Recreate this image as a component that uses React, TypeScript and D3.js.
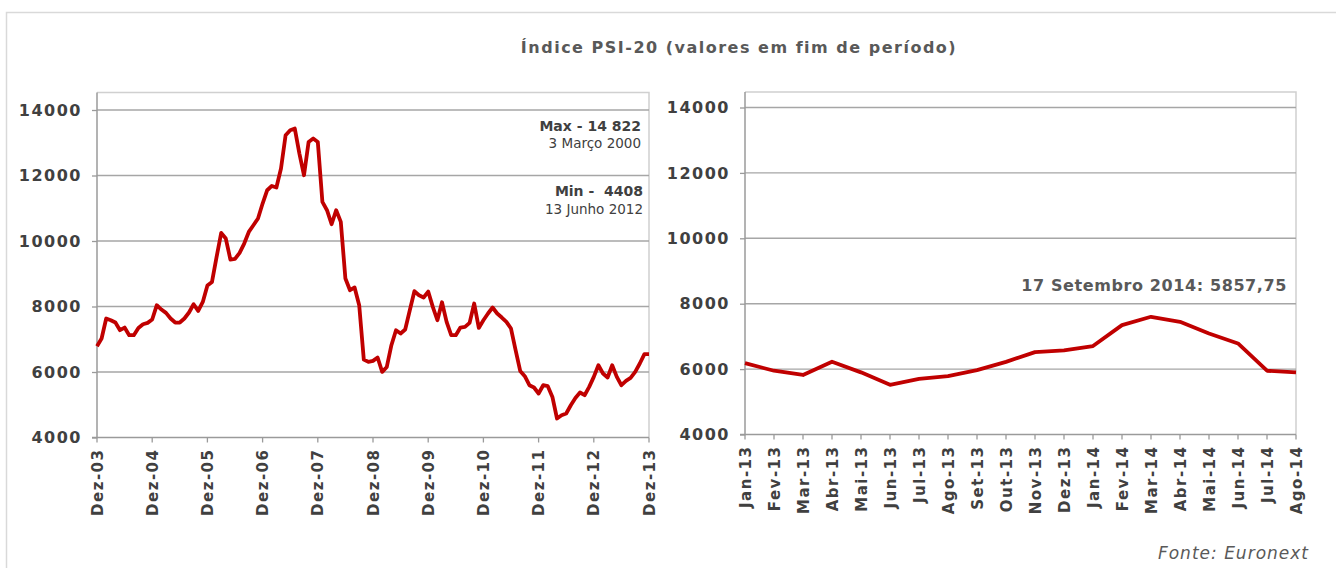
import React, { useEffect, useRef } from 'react';
import * as d3 from 'd3';

// PSI-20 end of month, Dez-03 .. Dez-13 (121 points)
const psiMonthly: number[] = [
  6788, 7022, 7633, 7580, 7510, 7276, 7358, 7123, 7123, 7346, 7459, 7500,
  7602, 8040, 7908, 7805, 7633, 7510, 7510, 7633, 7816, 8070, 7866, 8140,
  8640, 8750, 9514, 10247, 10075, 9434, 9454, 9637, 9922, 10277, 10481, 10686,
  11144, 11550, 11681, 11632, 12212, 13229, 13382, 13433, 12670, 12008, 13025, 13128,
  13025, 11193, 10940, 10512, 10940, 10583, 8854, 8497, 8580, 8040, 6381, 6309,
  6340, 6442, 6003, 6155, 6818, 7276, 7175, 7297, 7886, 8467, 8345, 8274,
  8457, 7988, 7580, 8130, 7530, 7123, 7123, 7358, 7378, 7500, 8090, 7346,
  7580, 7786, 7969, 7786, 7664, 7530, 7327, 6665, 6033, 5871, 5596, 5526,
  5343, 5596, 5566, 5240, 4580, 4681, 4733, 4986, 5209, 5374, 5291, 5545,
  5850, 6207, 5954, 5832, 6207, 5850, 5596, 5728, 5820, 6003, 6259, 6543,
  6543,
];
const yearLabels: string[] = [
  'Dez-03', 'Dez-04', 'Dez-05', 'Dez-06', 'Dez-07', 'Dez-08',
  'Dez-09', 'Dez-10', 'Dez-11', 'Dez-12', 'Dez-13',
];

// Jan-13 .. Ago-14
const monthLabels: string[] = [
  'Jan-13', 'Fev-13', 'Mar-13', 'Abr-13', 'Mai-13', 'Jun-13', 'Jul-13',
  'Ago-13', 'Set-13', 'Out-13', 'Nov-13', 'Dez-13', 'Jan-14', 'Fev-14',
  'Mar-14', 'Abr-14', 'Mai-14', 'Jun-14', 'Jul-14', 'Ago-14',
];
const psiRecent: number[] = [
  6180, 5950, 5820, 6225, 5900, 5520, 5700, 5785, 5970, 6220,
  6520, 6575, 6705, 7345, 7600, 7445, 7090, 6785, 5950, 5900,
];

const yTicks: number[] = [4000, 6000, 8000, 10000, 12000, 14000];

const FONT = "'DejaVu Sans', Verdana, sans-serif";
const LINE_RED = '#c00000';
const GRID = '#a6a6a6';
const BORDER = '#d0d0d0';
const AXIS = '#9a9a9a';
const TEXT = '#404040';

export default function App() {
  const svgRef = useRef<SVGSVGElement>(null);

  useEffect(() => {
    const svg = d3.select(svgRef.current);
    svg.selectAll('*').remove();

    // outer frame
    svg.append('path')
      .attr('d', 'M6.5,568 L6.5,12.5 L1336,12.5')
      .attr('fill', 'none')
      .attr('stroke', '#d9d9d9')
      .attr('stroke-width', 1.5);

    svg.append('text')
      .attr('x', 739)
      .attr('y', 53)
      .attr('text-anchor', 'middle')
      .style('font-family', FONT)
      .style('font-size', '16px')
      .style('font-weight', 'bold')
      .style('letter-spacing', '1.5px')
      .attr('fill', '#595959')
      .text('Índice PSI-20 (valores em fim de período)');

    const drawPanel = (
      left: number, right: number, top: number, y14: number, y4: number,
      values: number[], xPos: (i: number) => number,
      tickIdx: number[], tickLabels: string[]
    ) => {
      const g = svg.append('g');
      const y = d3.scaleLinear().domain([4000, 14000]).range([y4, y14]);

      // plot border
      g.append('path')
        .attr('d', `M${left},${top} L${right},${top} L${right},${y4}`)
        .attr('fill', 'none')
        .attr('stroke', BORDER)
        .attr('stroke-width', 1.5);

      yTicks.forEach(t => {
        if (t > 4000) {
          g.append('line')
            .attr('x1', left).attr('x2', right)
            .attr('y1', y(t)).attr('y2', y(t))
            .attr('stroke', GRID).attr('stroke-width', 1.4);
        }
      });

      const yAxis = d3.axisLeft(y).tickValues(yTicks).tickSize(5).tickPadding(10)
        .tickFormat(d => String(d));
      const ya = g.append('g').attr('transform', `translate(${left},0)`).call(yAxis);
      ya.select('.domain').attr('stroke', AXIS).attr('stroke-width', 1.5)
        .attr('d', `M-5,${y4}H0V${top}`);
      ya.selectAll('line').attr('stroke', AXIS).attr('stroke-width', 1.3);
      ya.selectAll('text')
        .style('font-family', FONT).style('font-size', '16px').style('font-weight', 'bold')
        .style('letter-spacing', '1.5px')
        .attr('fill', TEXT);

      // x axis
      g.append('line')
        .attr('x1', left).attr('x2', right).attr('y1', y4).attr('y2', y4)
        .attr('stroke', AXIS).attr('stroke-width', 1.5);
      tickIdx.forEach((ti, k) => {
        const x = xPos(ti);
        g.append('line')
          .attr('x1', x).attr('x2', x).attr('y1', y4).attr('y2', y4 + 5)
          .attr('stroke', AXIS).attr('stroke-width', 1.3);
        g.append('text')
          .attr('transform', `translate(${x + 5.5},${y4 + 11}) rotate(-90)`)
          .attr('text-anchor', 'end')
          .style('font-family', FONT).style('font-size', '15px').style('font-weight', 'bold')
          .style('letter-spacing', '1.5px')
          .attr('fill', TEXT)
          .text(tickLabels[k]);
      });

      const line = d3.line<number>()
        .x((_, i) => xPos(i))
        .y(d => y(d));
      g.append('path')
        .datum(values)
        .attr('d', line)
        .attr('fill', 'none')
        .attr('stroke', LINE_RED)
        .attr('stroke-width', 3.8)
        .attr('stroke-linejoin', 'round');
      return g;
    };

    // left panel: 10 years of monthly values
    const xLeft = d3.scaleLinear().domain([0, psiMonthly.length - 1]).range([97, 649]);
    const leftG = drawPanel(97, 649, 92.5, 110, 437.5, psiMonthly, i => xLeft(i),
      yearLabels.map((_, k) => k * 12), yearLabels);

    const note = (g: any, x: number, yy: number, txt: string, bold: boolean, size: number) =>
      g.append('text')
        .attr('x', x).attr('y', yy).attr('text-anchor', 'end')
        .style('font-family', FONT).style('font-size', `${size}px`)
        .style('font-weight', bold ? 'bold' : 'normal')
        .style('white-space', 'pre')
        .attr('fill', TEXT).text(txt);
    note(leftG, 641, 131, 'Max - 14 822', true, 14);
    note(leftG, 641, 148, '3 Março 2000', false, 13.5);
    note(leftG, 643, 196, 'Min -  4408', true, 14);
    note(leftG, 643, 214, '13 Junho 2012', false, 13.5);

    // right panel: Jan-13 .. Ago-14
    const xRight = d3.scalePoint<string>().domain(monthLabels).range([745, 1296]);
    const rightG = drawPanel(745, 1296, 92, 107.5, 434.5, psiRecent,
      i => xRight(monthLabels[i]) as number,
      monthLabels.map((_, k) => k), monthLabels);

    rightG.append('text')
      .attr('x', 1287).attr('y', 291).attr('text-anchor', 'end')
      .style('font-family', FONT).style('font-size', '16px').style('font-weight', 'bold')
      .style('letter-spacing', '0.6px')
      .attr('fill', '#595959')
      .text('17 Setembro 2014: 5857,75');

    svg.append('text')
      .attr('x', 1309).attr('y', 559).attr('text-anchor', 'end')
      .style('font-family', FONT).style('font-size', '17px').style('font-style', 'italic')
      .style('letter-spacing', '1px')
      .attr('fill', '#595959')
      .text('Fonte: Euronext');
  }, []);

  return (
    <svg ref={svgRef} width={1336} height={568}
      style={{ position: 'absolute', left: 0, top: 0, background: '#fff' }} />
  );
}
